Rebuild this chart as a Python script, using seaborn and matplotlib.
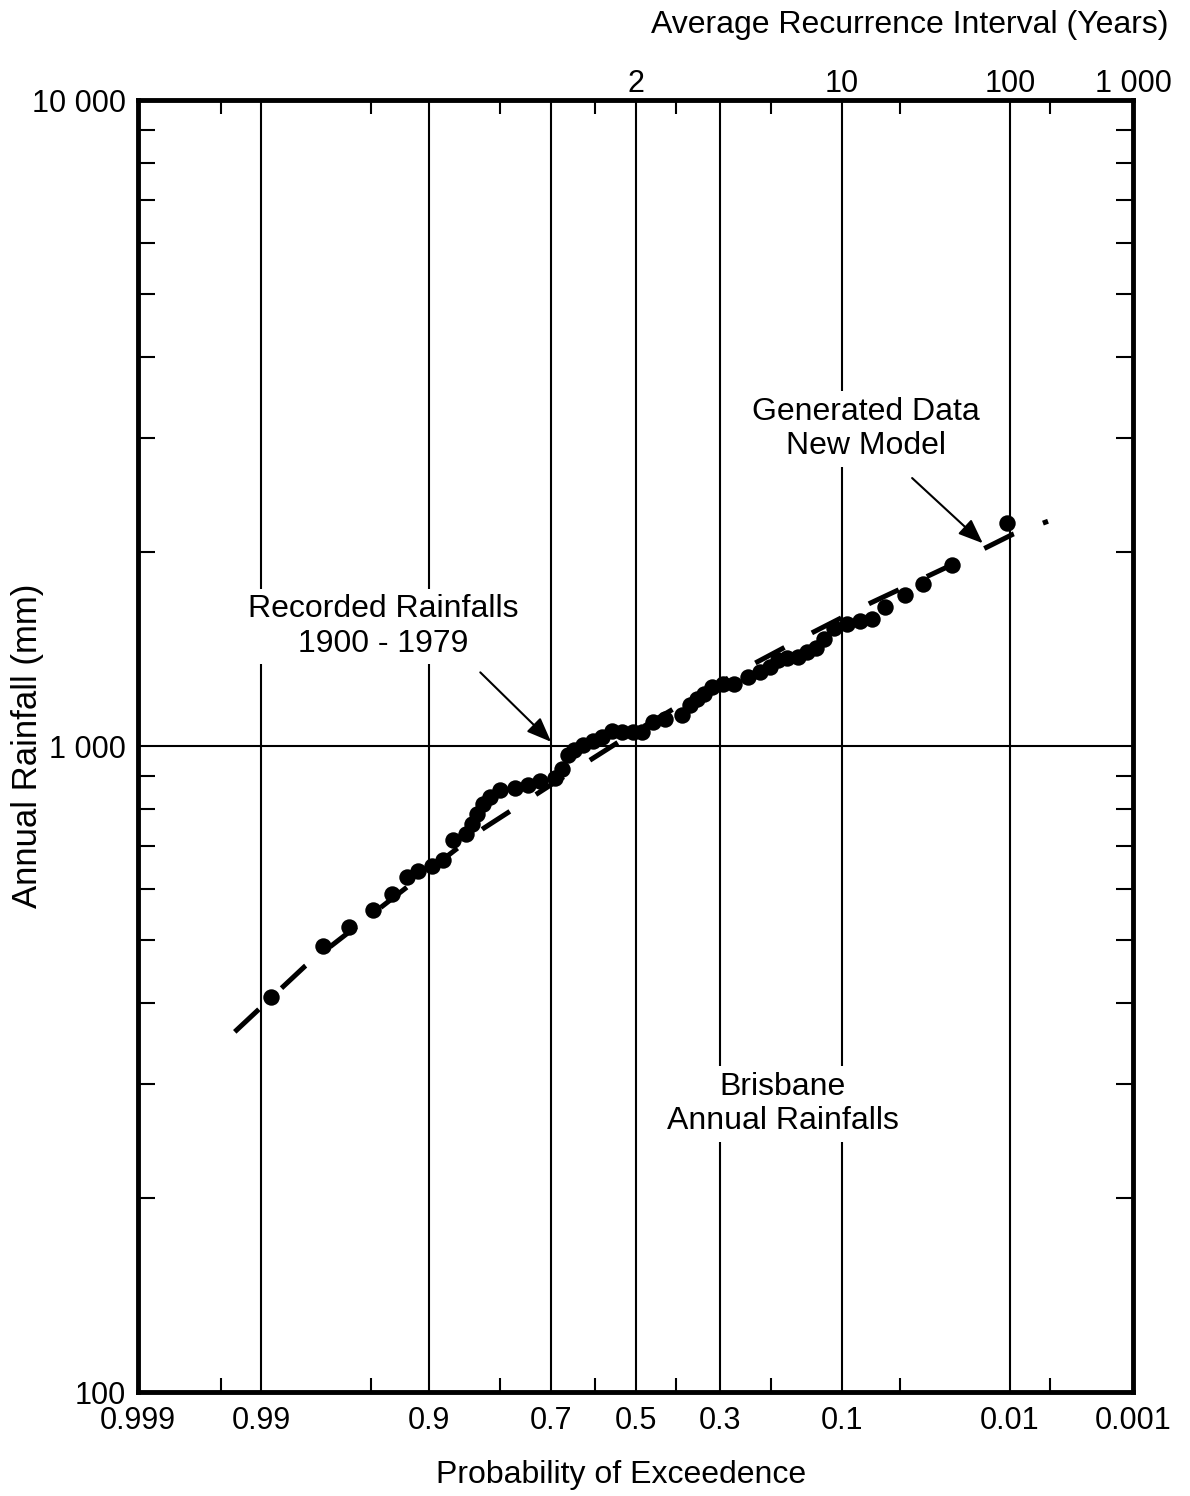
import math
from statistics import NormalDist

import numpy as np
import matplotlib
matplotlib.use("Agg")
import matplotlib.pyplot as plt
from matplotlib.ticker import NullFormatter, NullLocator
import seaborn as sns

# Recorded Brisbane annual rainfalls 1900-1979 (probability of exceedence, mm)
rec_prob = [0.9883, 0.9737, 0.9624, 0.9483, 0.9346, 0.9219, 0.9114, 0.8966,
            0.8841, 0.8713, 0.8535, 0.8450, 0.8372, 0.8278, 0.8169, 0.7998,
            0.7724, 0.7477, 0.7233, 0.6915, 0.6758, 0.6623, 0.6487, 0.6276,
            0.6040, 0.5824, 0.5580, 0.5334, 0.5062, 0.4839, 0.4568, 0.4273,
            0.3864, 0.3677, 0.3513, 0.3354, 0.3175, 0.2936, 0.2705, 0.2424,
            0.2199, 0.2021, 0.1882, 0.1737, 0.1566, 0.1437, 0.1314, 0.1211,
            0.1091, 0.0946, 0.0817, 0.0711, 0.0608, 0.0473, 0.0371, 0.0245,
            0.0105]
rec_rain = [409, 490, 525, 557, 590, 627, 640, 652,
            666, 715, 731, 757, 785, 813, 834, 855,
            861, 870, 883, 892, 921, 968, 986, 1004,
            1018, 1033, 1055, 1051, 1051, 1051, 1089, 1101,
            1117, 1157, 1182, 1204, 1234, 1247, 1247, 1279,
            1302, 1325, 1359, 1368, 1373, 1398, 1418, 1464,
            1523, 1545, 1561, 1572, 1641, 1713, 1782, 1907,
            2214]

# Generated data, new model (dashed curve)
gen_prob = [0.9936, 0.980, 0.950, 0.900, 0.828, 0.700, 0.611, 0.500,
            0.400, 0.300, 0.225, 0.135, 0.0727, 0.0265, 0.0095, 0.0052]
gen_rain = [361, 456, 547, 643, 745, 871, 951, 1054,
            1148, 1253, 1349, 1500, 1663, 1892, 2128, 2228]

x_major = [0.999, 0.99, 0.9, 0.7, 0.5, 0.3, 0.1, 0.01, 0.001]
x_major_labels = ["0.999", "0.99", "0.9", "0.7", "0.5", "0.3", "0.1", "0.01", "0.001"]
x_minor = [0.995, 0.95, 0.8, 0.6, 0.4, 0.2, 0.05, 0.005]
ari_prob = [0.5, 0.1, 0.01, 0.001]
ari_labels = ["2", "10", "100", "1 000"]
y_major = [100, 1000, 10000]
y_major_labels = ["100", "1 000", "10 000"]
y_minor = [200, 300, 400, 500, 600, 700, 800, 900,
           2000, 3000, 4000, 5000, 6000, 7000, 8000, 9000]

_inv_cdf = np.vectorize(NormalDist().inv_cdf, otypes=[float])
_erfc = np.vectorize(math.erfc, otypes=[float])


def prob_fwd(p):
    # normal probability scale (increasing); axis is inverted via xlim
    p = np.asarray(p, dtype=float)
    flat = np.clip(np.nan_to_num(p.ravel(), nan=0.5), 1e-12, 1 - 1e-12)
    return _inv_cdf(flat).reshape(p.shape)


def prob_inv(z):
    z = np.asarray(z, dtype=float)
    return (0.5 * _erfc(-z.ravel() / math.sqrt(2))).reshape(z.shape)


sns.set_theme(style="ticks")
plt.rcParams["font.family"] = ["Liberation Sans", "DejaVu Sans"]
plt.rcParams["axes.axisbelow"] = True
for key in ["text.color", "axes.labelcolor", "xtick.color", "ytick.color",
            "xtick.labelcolor", "ytick.labelcolor"]:
    plt.rcParams[key] = "black"

FS = 22

fig = plt.figure(figsize=(11.9, 14.96), dpi=100)
ax = fig.add_axes([138 / 1190, 104 / 1496, 995 / 1190, 1292 / 1496])
twin = ax.twiny()

sns.lineplot(x=gen_prob, y=gen_rain, ax=ax, color="black", lw=3.6,
             linestyle=(0, (6.6, 6.2)), sort=False, zorder=2)
sns.scatterplot(x=rec_prob, y=rec_rain, ax=ax, color="black", s=140,
                linewidth=0, zorder=3)

ax.set_xscale("function", functions=(prob_fwd, prob_inv))
ax.set_yscale("log")

ax.set_xticks(x_major, labels=x_major_labels)
ax.set_xticks(x_minor, minor=True)
ax.xaxis.set_minor_formatter(NullFormatter())
ax.set_yticks(y_major, labels=y_major_labels)
ax.set_yticks(y_minor, minor=True)
ax.yaxis.set_minor_formatter(NullFormatter())
ax.set_xlim(0.999, 0.001)
ax.set_ylim(100, 10000)

ax.tick_params(axis="x", which="major", length=0, pad=10, labelsize=FS,
               bottom=True, top=False, labelcolor="black")
ax.tick_params(axis="x", which="minor", direction="in", length=10, width=1.5,
               bottom=True, top=True, color="black")
ax.tick_params(axis="y", which="major", length=0, pad=9, labelsize=FS,
               labelcolor="black")
ax.tick_params(axis="y", which="minor", direction="in", length=12, width=1.5,
               left=True, right=True, color="black")

ax.grid(axis="x", which="major", color="black", lw=1.5)
ax.grid(axis="y", which="major", color="black", lw=1.5)
for sp in ax.spines.values():
    sp.set_visible(True)
    sp.set_linewidth(3.5)
    sp.set_color("black")

# top axis: average recurrence interval
twin.set_xscale("function", functions=(prob_fwd, prob_inv))
twin.set_xticks(ari_prob, labels=ari_labels)
twin.xaxis.set_minor_locator(NullLocator())
twin.set_xlim(0.999, 0.001)
twin.tick_params(axis="x", length=0, pad=1, labelsize=FS, labelcolor="black")
for sp in twin.spines.values():
    sp.set_visible(False)

ax.set_xlabel("Probability of Exceedence", fontsize=23, color="black")
ax.xaxis.label.set_va("center")
ax.xaxis.set_label_coords(0.4854, -0.0642)
ax.set_ylabel("Annual Rainfall (mm)", fontsize=25, color="black")
ax.yaxis.label.set_va("center")
ax.yaxis.set_label_coords(-0.1106, 0.5)
twin.set_xlabel("Average Recurrence Interval (Years)", fontsize=23, color="black")
twin.xaxis.label.set_va("center")
twin.xaxis.set_label_coords(0.776, 1.058)

box = dict(facecolor="white", edgecolor="none", pad=4)
ax.text(0.2462, 0.5925, "Recorded Rainfalls\n1900 - 1979", transform=ax.transAxes,
        ha="center", va="center", fontsize=23, color="black", bbox=box, zorder=4)
ax.text(0.7317, 0.7454, "Generated Data\nNew Model", transform=ax.transAxes,
        ha="center", va="center", fontsize=23, color="black", bbox=box, zorder=4)
ax.text(0.6482, 0.2229, "Brisbane\nAnnual Rainfalls", transform=ax.transAxes,
        ha="center", va="center", fontsize=23, color="black", bbox=box, zorder=4)

arrow = dict(arrowstyle="-|>,head_length=0.75,head_width=0.3", mutation_scale=20,
             color="black", lw=1.5, shrinkA=0, shrinkB=0)
ax.annotate("", xy=(0.7, 1015), xycoords="data", xytext=(0.344, 0.557),
            textcoords="axes fraction", arrowprops=arrow, zorder=5)
ax.annotate("", xy=(0.0155, 2060), xycoords="data", xytext=(0.778, 0.7074),
            textcoords="axes fraction", arrowprops=arrow, zorder=5)

fig.savefig("out.png", dpi=100)
